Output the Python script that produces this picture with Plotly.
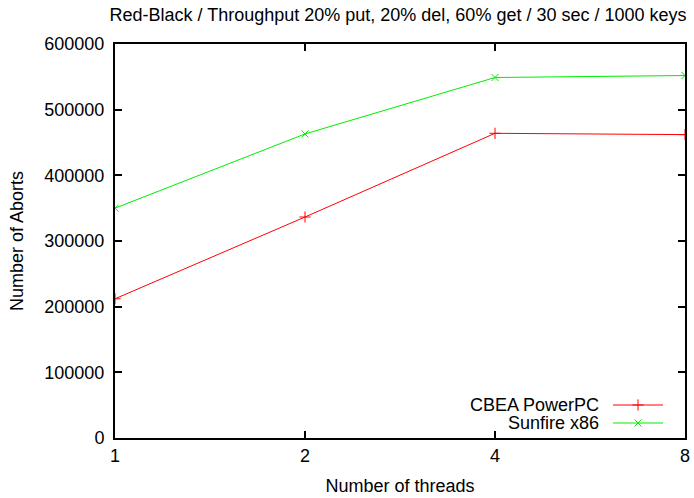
import plotly.graph_objects as go

threads = [1, 2, 4, 8]
cbea_powerpc = [212000, 336500, 464000, 462000]
sunfire_x86 = [350000, 463000, 549000, 552000]
series_names = ["CBEA PowerPC", "Sunfire x86"]
y_ticks = [0, 100000, 200000, 300000, 400000, 500000, 600000]
title_text = "Red-Black / Throughput 20% put, 20% del, 60% get / 30 sec / 1000 keys"

RED = "#ff0000"
GREEN = "#00ee00"
FONT = "Liberation Sans, Arial, sans-serif"

fig = go.Figure()
fig.add_trace(go.Scatter(x=threads, y=cbea_powerpc, mode="lines+markers", name=series_names[0],
                         line=dict(color=RED, width=1),
                         marker=dict(symbol="cross-thin-open", size=8, color=RED,
                                     line=dict(color=RED, width=1))))
fig.add_trace(go.Scatter(x=threads, y=sunfire_x86, mode="lines+markers", name=series_names[1],
                         line=dict(color=GREEN, width=1),
                         marker=dict(symbol="x-thin-open", size=7, color=GREEN,
                                     line=dict(color=GREEN, width=1))))

W, H = 694, 498
L, R, T, B = 115, 9, 44, 60
pw, ph = W - L - R, H - T - B

def px2paper(x, y):
    return (x - L) / pw, 1 - (y - T) / ph

# Legend (gnuplot style: text on the left, sample on the right)
leg_x0, leg_x1 = 613, 663
leg_rows = [(405, RED, "cross-thin-open", 8), (423, GREEN, "x-thin-open", 7)]
for i, (yy, col, sym, sz) in enumerate(leg_rows):
    xa, ya = px2paper(leg_x0, yy)
    xb, _ = px2paper(leg_x1, yy)
    fig.add_shape(type="line", xref="paper", yref="paper", x0=xa, x1=xb, y0=ya, y1=ya,
                  line=dict(color=col, width=1))
    fig.add_annotation(xref="paper", yref="paper", x=px2paper(601, yy)[0], y=ya,
                       text=series_names[i], showarrow=False, xanchor="right", yanchor="middle",
                       font=dict(family=FONT, size=18, color="black"))
    fig.add_trace(go.Scatter(x=[(xa + xb) / 2], y=[ya], xaxis="x2", yaxis="y2", mode="markers",
                             showlegend=False, hoverinfo="skip",
                             marker=dict(symbol=sym, size=sz, color=col,
                                         line=dict(color=col, width=1))))

fig.update_layout(
    width=W, height=H,
    margin=dict(l=L, r=R, t=T, b=B, autoexpand=False),
    paper_bgcolor="white", plot_bgcolor="white",
    showlegend=False,
    font=dict(family=FONT, size=18, color="black"),
    title=dict(text=title_text, x=398 / W, xanchor="center", y=1 - 15 / H, yanchor="middle",
               font=dict(family=FONT, size=18, color="black")),
    xaxis=dict(type="log", range=[0, 0.90309], tickvals=threads, ticktext=[str(t) for t in threads],
               showgrid=False, zeroline=False, showline=True, linecolor="black", linewidth=2,
               mirror="ticks", ticks="inside", ticklen=7, tickwidth=1.5, tickcolor="black",
               automargin=False,
               title=dict(text="Number of threads", standoff=15, font=dict(size=18)),
               tickfont=dict(size=18)),
    yaxis=dict(range=[0, 600000], tickvals=y_ticks, ticktext=[str(v) for v in y_ticks],
               showgrid=False, zeroline=False, showline=True, linecolor="black", linewidth=2,
               mirror="ticks", ticks="inside", ticklen=7, tickwidth=1.5, tickcolor="black",
               ticklabelstandoff=5, automargin=False,
               title=dict(text="Number of Aborts", standoff=16, font=dict(size=18)),
               tickfont=dict(size=18)),
    xaxis2=dict(range=[0, 1], overlaying="x", visible=False),
    yaxis2=dict(range=[0, 1], overlaying="y", visible=False),
)

fig.write_html("out.html", post_script="document.body.style.margin='0';",
               config={"displayModeBar": False})
